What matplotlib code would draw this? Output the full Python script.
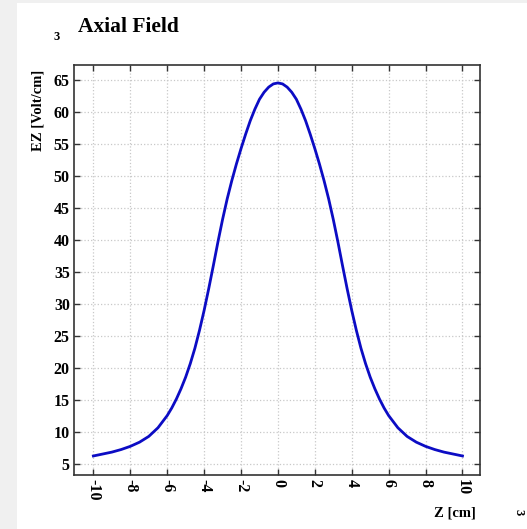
import matplotlib
matplotlib.use("Agg")
import matplotlib.pyplot as plt
from matplotlib.patches import Rectangle

# Data (curve is symmetric about z = 0)
z_half = [0.0, 0.25, 0.5, 0.75, 1.0, 1.25, 1.5, 1.75, 2.0, 2.25, 2.5, 2.75,
          3.0, 3.25, 3.5, 3.75, 4.0, 4.25, 4.5, 4.75, 5.0, 5.25, 5.5, 5.75,
          6.0, 6.5, 7.0, 7.5, 8.0, 8.5, 9.0, 9.5, 10.0]
ez_half = [64.5, 64.35, 63.85, 63.05, 61.95, 60.4, 58.6, 56.5, 54.25, 51.85,
           49.25, 46.4, 43.2, 39.7, 36.0, 32.4, 29.0, 25.9, 23.1, 20.7, 18.6,
           16.8, 15.2, 13.8, 12.6, 10.7, 9.35, 8.45, 7.8, 7.3, 6.9, 6.6, 6.3]
z_vals = [-v for v in z_half[::-1]] + z_half[1:]
ez_vals = ez_half[::-1] + ez_half[1:]

x_ticks = [-10, -8, -6, -4, -2, 0, 2, 4, 6, 8, 10]
y_ticks = [5, 10, 15, 20, 25, 30, 35, 40, 45, 50, 55, 60, 65]

W, H = 527, 529
fig = plt.figure(figsize=(W / 100, H / 100), dpi=100, facecolor="#f0f0f0")
fig.patches.append(Rectangle((17 / W, 0), 1 - 17 / W, 1 - 3 / H,
                             transform=fig.transFigure, facecolor="white",
                             edgecolor="none", zorder=-10))

ax = fig.add_axes([74 / W, 1 - 475 / H, (480 - 74) / W, (475 - 65) / H])
ax.set_zorder(5)
ax.set_facecolor("white")
ax.plot(z_vals, ez_vals, color="#0c0cc4", lw=2.0, solid_joinstyle="round")

ax.set_xlim(-11.05, 10.95)
ax.set_ylim(3.33, 67.3)
ax.set_xticks(x_ticks)
ax.set_yticks(y_ticks)

font = dict(family="Liberation Serif", weight="bold")
ax.set_xticklabels([str(t) for t in x_ticks], rotation=-90, fontsize=11.5, **font)
ax.set_yticklabels([str(t) for t in y_ticks], fontsize=11.5, **font)

ax.tick_params(direction="in", length=4, width=1, top=True, right=True,
               color="#333333", pad=3)
ax.grid(True, color="#c8c8c8", linestyle=":", linewidth=0.9)
for s in ax.spines.values():
    s.set_color("#333333")
    s.set_linewidth(1.2)

fig.text(38 / W, 1 - 110 / H, "EZ [Volt/cm]", rotation=90, ha="center",
         va="center", fontsize=10.5, **font)
fig.text(476 / W, 1 - 513 / H, "Z [cm]", ha="right", va="center",
         fontsize=10.5, **font)
fig.text(78 / W, 1 - 27 / H, "Axial Field", ha="left", va="center",
         fontsize=15.5, **font)
fig.text(57 / W, 1 - 37 / H, "3", ha="center", va="center",
         fontsize=9, **font)
fig.text(519 / W, 1 - 512 / H, "3", ha="center", va="center", rotation=-90,
         fontsize=9, **font)

fig.savefig("out.png", dpi=100, facecolor=fig.get_facecolor())
